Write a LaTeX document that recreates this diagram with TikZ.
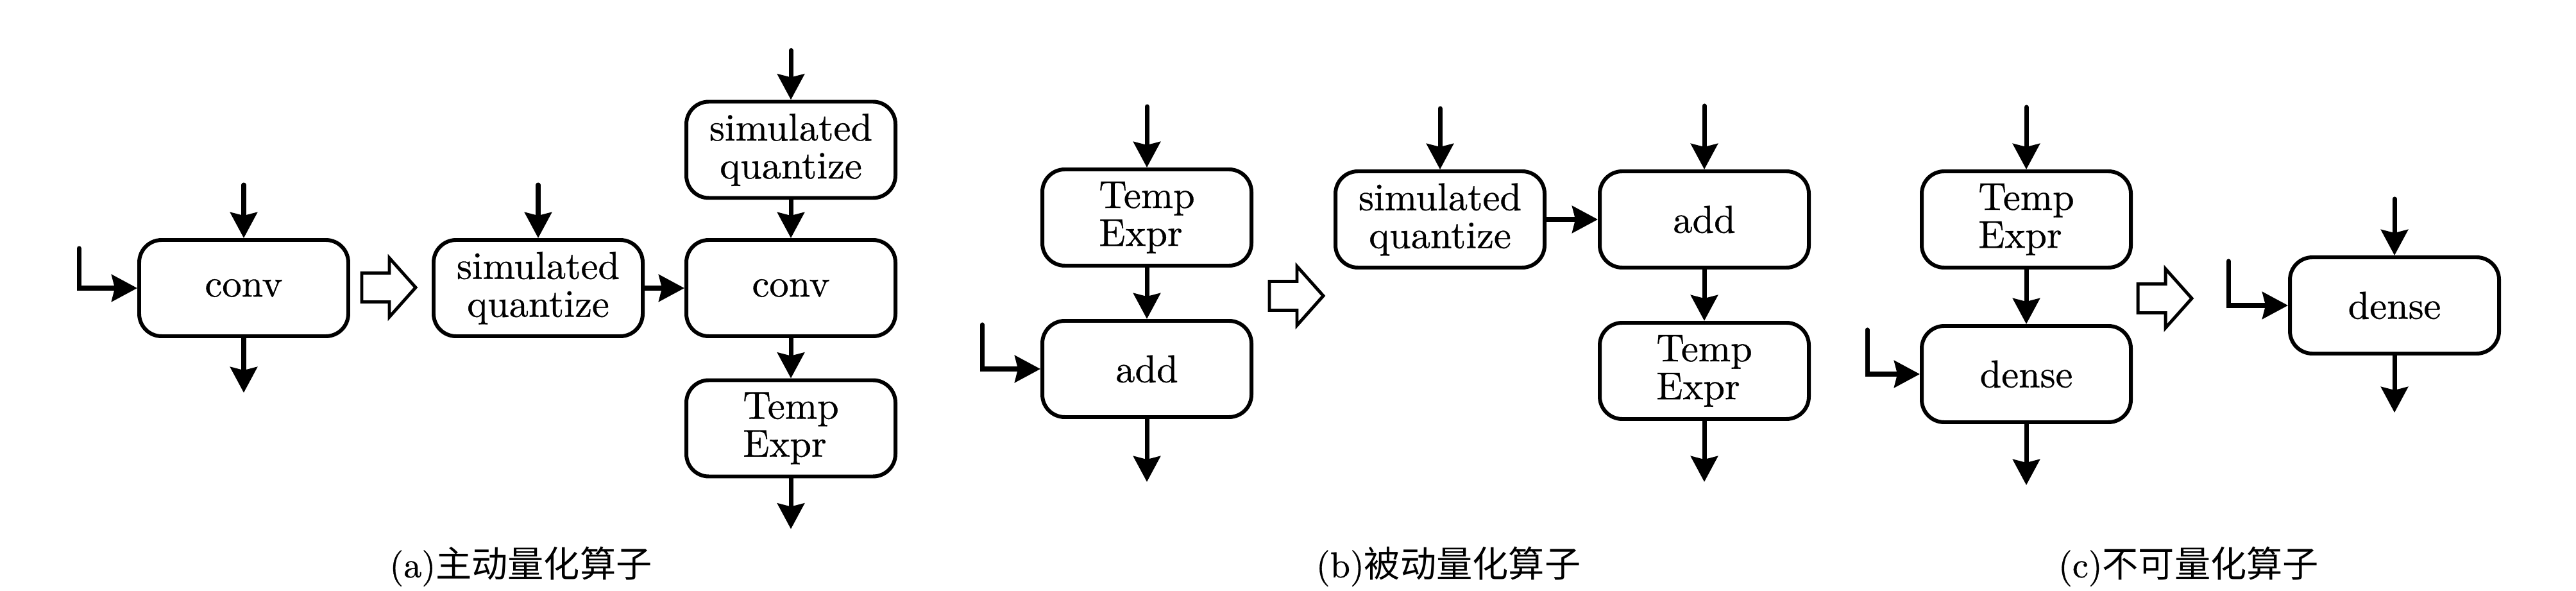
\documentclass[tikz,border=0pt]{standalone}
\usepackage{fontspec}
\newfontfamily\cjk{Noto Sans CJK SC}
\newfontfamily\boxfont{lmroman10-regular.otf}[FakeBold=0.6]
\usetikzlibrary{arrows.meta}

\tikzset{
  box/.style={draw, line width=1.7pt, rounded corners=0.35cm, minimum width=3.26cm,
    minimum height=1.5cm, inner sep=0pt, align=center, font=\boxfont\fontsize{17.2}{16.8}\selectfont},
  flow/.style={line width=2pt, line cap=round, -{Stealth[length=4mm,width=4.2mm,inset=0.5mm]}},
  hollow/.style={draw, line width=1.4pt, miter limit=20},
  caption/.style={font=\boxfont\fontsize{16}{18}\selectfont}
}
\newcommand\transarrow[1]{\draw[hollow] (#1) ++(-0.42,-0.225) -- ++(0.43,0) -- ++(0,-0.235) -- ++(0.41,0.46) -- ++(-0.41,0.46) -- ++(0,-0.235) -- ++(-0.43,0) -- cycle;}

\begin{document}
\begin{tikzpicture}
    \useasboundingbox (0,0) rectangle (40.16,9.21);
    % (a)
    \node[box] (convA) at (3.80,4.72) {conv};
    \node[box] (simqA) at (8.39,4.72) {simulated\\quantize};
    \node[box] (convB) at (12.33,4.72) {conv};
    \node[box] (simqB) at (12.33,6.875) {simulated\\quantize};
    \node[box, align=left] (exprA) at (12.33,2.535) {Temp\\Expr};
    \draw[flow] (convA.north) ++(0,0.83) -- (convA.north);
    \draw[flow] (convA.south) -- ++(0,-0.85);
    \draw[flow] (convA.west) ++(-0.91,0.62) |- (convA.west);
    \coordinate (tA) at (6.06,4.73);
    \transarrow{tA}
    \draw[flow] (simqA.north) ++(0,0.83) -- (simqA.north);
    \draw[flow] (simqA) -- (convB);
    \draw[flow] (simqB.north) ++(0,0.77) -- (simqB.north);
    \draw[flow] (simqB) -- (convB);
    \draw[flow] (convB) -- (exprA);
    \draw[flow] (exprA.south) -- ++(0,-0.79);
    \node[caption] (capA) at (8.12,0.38) {(a)\cjk 主动量化算子};
    % (b)
    \node[box, align=left] (exprB) at (17.88,5.82) {Temp\\Expr};
    \node[box] (addA) at (17.88,3.46) {add};
    \node[box] (simqC) at (22.45,5.79) {simulated\\quantize};
    \node[box] (addB) at (26.57,5.79) {add};
    \node[box, align=left] (exprC) at (26.57,3.43) {Temp\\Expr};
    \draw[flow] (exprB.north) ++(0,0.95) -- (exprB.north);
    \draw[flow] (exprB) -- (addA);
    \draw[flow] (addA.west) ++(-0.91,0.69) |- (addA.west);
    \draw[flow] (addA.south) -- ++(0,-0.98);
    \coordinate (tB) at (20.21,4.60);
    \transarrow{tB}
    \draw[flow] (simqC.north) ++(0,0.95) -- (simqC.north);
    \draw[flow] (simqC) -- (addB);
    \draw[flow] (addB.north) ++(0,0.99) -- (addB.north);
    \draw[flow] (addB) -- (exprC);
    \draw[flow] (exprC.south) -- ++(0,-0.95);
    \node[caption] (capB) at (22.58,0.38) {(b)\cjk 被动量化算子};
    % (c)
    \node[box, align=left] (exprD) at (31.59,5.79) {Temp\\Expr};
    \node[box] (denseA) at (31.59,3.38) {dense};
    \node[box] (denseB) at (37.33,4.45) {dense};
    \draw[flow] (exprD.north) ++(0,0.97) -- (exprD.north);
    \draw[flow] (exprD) -- (denseA);
    \draw[flow] (denseA.west) ++(-0.82,0.69) |- (denseA.west);
    \draw[flow] (denseA.south) -- ++(0,-0.95);
    \coordinate (tC) at (33.75,4.56);
    \transarrow{tC}
    \draw[flow] (denseB.north) ++(0,0.88) -- (denseB.north);
    \draw[flow] (denseB.west) ++(-0.93,0.69) |- (denseB.west);
    \draw[flow] (denseB.south) -- ++(0,-0.89);
    \node[caption] (capC) at (34.12,0.38) {(c)\cjk 不可量化算子};
\end{tikzpicture}
\end{document}
